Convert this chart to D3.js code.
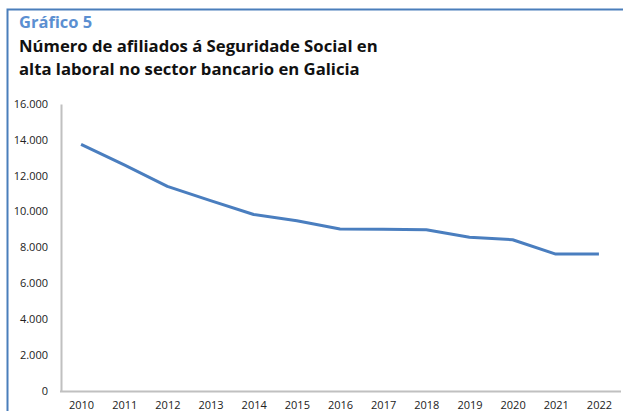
<!DOCTYPE html>
<html>
<head>
<meta charset="utf-8">
<script src="https://cdn.jsdelivr.net/npm/d3@7"></script>
<style>
  body { margin: 0; background: #fff; }
  svg { display: block; }
</style>
</head>
<body>
<div id="chart"></div>
<script>
// Data
const years = ["2010", "2011", "2012", "2013", "2014", "2015", "2016",
  "2017", "2018", "2019", "2020", "2021", "2022"];
const afiliados = [13750, 12600, 11400, 10600, 9830, 9480, 9020,
  9000, 8980, 8560, 8420, 7620, 7620];
const yTicks = [0, 2000, 4000, 6000, 8000, 10000, 12000, 14000, 16000];

const width = 623, height = 411;
const svg = d3.select("#chart").append("svg")
  .attr("width", width)
  .attr("height", height);

// Frame (left and top only)
svg.append("path")
  .attr("d", "M7.5,411 V9.5 H623")
  .attr("fill", "none")
  .attr("stroke", "#4a7ebb")
  .attr("stroke-width", 2);

// Titles
svg.append("text")
  .attr("x", 19).attr("y", 28)
  .attr("font-family", "Open Sans, sans-serif")
  .attr("font-weight", "bold")
  .attr("font-size", 16.5)
  .attr("fill", "#5b8fd1")
  .text("Gráfico 5");

const titleLines = ["Número de afiliados á Seguridade Social en",
  "alta laboral no sector bancario en Galicia"];
svg.selectAll(".title")
  .data(titleLines)
  .enter()
  .append("text")
  .attr("class", "title")
  .attr("x", 19)
  .attr("y", (d, i) => 52 + i * 23)
  .attr("font-family", "Open Sans, sans-serif")
  .attr("font-weight", "bold")
  .attr("font-size", 16.7)
  .attr("fill", "#111")
  .text((d) => d);

// Scales
const x = d3.scalePoint().domain(years).range([59.5, 620.5]).padding(0.5);
const y = d3.scaleLinear().domain([0, 16000]).range([390.5, 104]);

const fmt = (v) => d3.format(",")(v).replace(/,/g, ".");

// Y axis
const yAxis = svg.append("g")
  .attr("transform", "translate(61,0)")
  .call(d3.axisLeft(y).tickValues(yTicks).tickFormat(fmt).tickSize(0).tickPadding(13));
yAxis.select(".domain").attr("stroke", "#c0c0c0").attr("stroke-width", 2);
yAxis.selectAll("text")
  .attr("font-family", "Open Sans, sans-serif")
  .attr("font-size", 11)
  .attr("fill", "#222");

// X axis
const xAxis = svg.append("g")
  .attr("transform", "translate(0,391)")
  .call(d3.axisBottom(x).tickSize(0).tickPadding(10));
xAxis.select(".domain").attr("stroke", "#c0c0c0").attr("stroke-width", 2);
xAxis.selectAll("text")
  .attr("font-family", "Open Sans, sans-serif")
  .attr("font-size", 11)
  .attr("fill", "#222");

// Line
const line = d3.line()
  .x((d, i) => x(years[i]))
  .y((d) => y(d));

svg.append("path")
  .datum(afiliados)
  .attr("d", line)
  .attr("fill", "none")
  .attr("stroke", "#4a7ebf")
  .attr("stroke-width", 3)
  .attr("stroke-linejoin", "round");
</script>
</body>
</html>
